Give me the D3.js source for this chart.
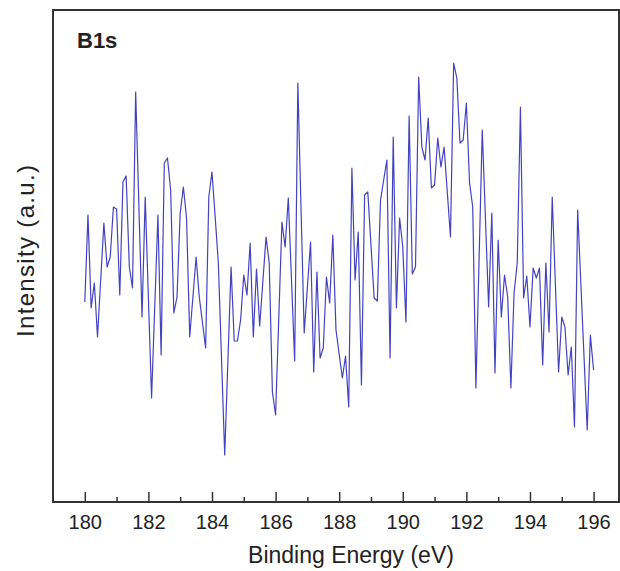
<!DOCTYPE html>
<html>
<head>
<meta charset="utf-8">
<script src="https://cdn.jsdelivr.net/npm/d3@7"></script>
<style>
  html, body { margin: 0; padding: 0; background: #fff; }
  svg { display: block; }
  text { font-family: "Liberation Sans", Arial, sans-serif; fill: #222; }
</style>
</head>
<body>
<svg id="chart" width="620" height="571"></svg>
<script>
// B 1s core-level scan: binding energy (eV) and intensity (a.u.)
const energy = [
  180.0, 180.1, 180.2, 180.3, 180.4, 180.6, 180.7, 180.8, 180.9, 181.0,
  181.1, 181.2, 181.3, 181.4, 181.5, 181.6, 181.8, 181.9, 182.1, 182.3,
  182.4, 182.5, 182.6, 182.7, 182.8, 182.9, 183.0, 183.1, 183.2, 183.3,
  183.5, 183.6, 183.8, 183.9, 184.0, 184.1, 184.2, 184.4, 184.6, 184.7,
  184.8, 184.9, 185.0, 185.1, 185.2, 185.3, 185.4, 185.5, 185.7, 185.8,
  185.9, 186.0, 186.2, 186.3, 186.4, 186.6, 186.7, 186.9, 187.1, 187.2,
  187.3, 187.4, 187.5, 187.6, 187.7, 187.8, 187.9, 188.1, 188.2, 188.3,
  188.4, 188.5, 188.6, 188.7, 188.8, 188.9, 189.1, 189.2, 189.3, 189.5,
  189.6, 189.7, 189.8, 189.9, 190.0, 190.1, 190.2, 190.3, 190.4, 190.5,
  190.6, 190.7, 190.8, 190.9, 191.0, 191.1, 191.2, 191.3, 191.5, 191.6,
  191.7, 191.8, 191.9, 192.0, 192.1, 192.2, 192.3, 192.5, 192.7, 192.8,
  192.9, 193.0, 193.1, 193.2, 193.3, 193.4, 193.5, 193.6, 193.7, 193.8,
  193.9, 194.0, 194.1, 194.2, 194.3, 194.4, 194.5, 194.6, 194.7, 194.9,
  195.0, 195.1, 195.2, 195.3, 195.4, 195.5, 195.8, 195.9, 196.0
];
const intensity = [
  200, 287, 194, 219, 165, 279, 235, 245, 295, 293,
  207, 320, 326, 235, 214, 410, 185, 305, 104, 287,
  147, 339, 344, 312, 189, 205, 289, 315, 284, 165,
  245, 205, 154, 305, 330, 285, 239, 47, 235, 161,
  161, 182, 227, 207, 259, 165, 233, 176, 265, 239,
  110, 87, 280, 255, 304, 141, 419, 169, 260, 130,
  230, 144, 154, 225, 199, 267, 172, 124, 146, 95,
  334, 222, 270, 117, 307, 310, 204, 201, 302, 342,
  144, 365, 194, 284, 255, 180, 386, 228, 235, 425,
  355, 342, 384, 314, 317, 364, 335, 355, 265, 439,
  424, 359, 362, 399, 319, 295, 114, 372, 195, 289,
  129, 262, 185, 227, 205, 114, 209, 239, 395, 204,
  226, 175, 234, 224, 234, 137, 239, 170, 305, 130,
  185, 175, 127, 155, 75, 292, 72, 167, 132
];
const majorTicks = [180, 182, 184, 186, 188, 190, 192, 194, 196];
const minorTicks = [181, 183, 185, 187, 189, 191, 193, 195];
const panelLabel = "B1s";
const xTitle = "Binding Energy (eV)";
const yTitle = "Intensity (a.u.)";

const svg = d3.select("#chart");
const frame = { left: 53, top: 10, right: 619, bottom: 502 };

const x = d3.scaleLinear().domain([179, 196.8]).range([frame.left, frame.right]);
const y = d3.scaleLinear().domain([0, 492]).range([frame.bottom, frame.top]);

const points = energy.map((e, i) => [e, intensity[i]]);

// spectrum trace
svg.append("path")
  .datum(points)
  .attr("fill", "none")
  .attr("stroke", "#4343c2")
  .attr("stroke-width", 1.2)
  .attr("stroke-linejoin", "round")
  .attr("d", d3.line().x(d => x(d[0])).y(d => y(d[1])));

// bottom axis: inward major ticks with labels
const xAxis = svg.append("g")
  .attr("transform", `translate(0,${frame.bottom})`)
  .call(d3.axisBottom(x).tickValues(majorTicks).tickFormat(d3.format("d"))
    .tickSizeInner(-10).tickSizeOuter(0).tickPadding(13));
xAxis.select(".domain").remove();
xAxis.selectAll("line").attr("stroke", "#333").attr("stroke-width", 1.5);
xAxis.selectAll("text")
  .style("font-family", '"Liberation Sans", Arial, sans-serif')
  .attr("font-size", 20).attr("fill", "#222");

// minor ticks
const xMinor = svg.append("g")
  .attr("transform", `translate(0,${frame.bottom})`)
  .call(d3.axisBottom(x).tickValues(minorTicks).tickFormat("")
    .tickSizeInner(-5).tickSizeOuter(0));
xMinor.select(".domain").remove();
xMinor.selectAll("line").attr("stroke", "#333").attr("stroke-width", 1.5);

// plot frame
svg.append("rect")
  .attr("x", frame.left).attr("y", frame.top)
  .attr("width", frame.right - frame.left)
  .attr("height", frame.bottom - frame.top)
  .attr("fill", "none").attr("stroke", "#333").attr("stroke-width", 2);

// panel label
svg.append("text")
  .attr("x", 77).attr("y", 48)
  .attr("font-size", 22).attr("font-weight", "bold")
  .text(panelLabel);

// axis titles
svg.append("text")
  .attr("x", (frame.left + frame.right) / 2 + 15).attr("y", 563)
  .attr("text-anchor", "middle").attr("font-size", 23)
  .text(xTitle);

svg.append("text")
  .attr("transform", `translate(34,251)rotate(-90)`)
  .attr("text-anchor", "middle").attr("font-size", 24)
  .attr("textLength", 172).attr("lengthAdjust", "spacing")
  .text(yTitle);
</script>
</body>
</html>
